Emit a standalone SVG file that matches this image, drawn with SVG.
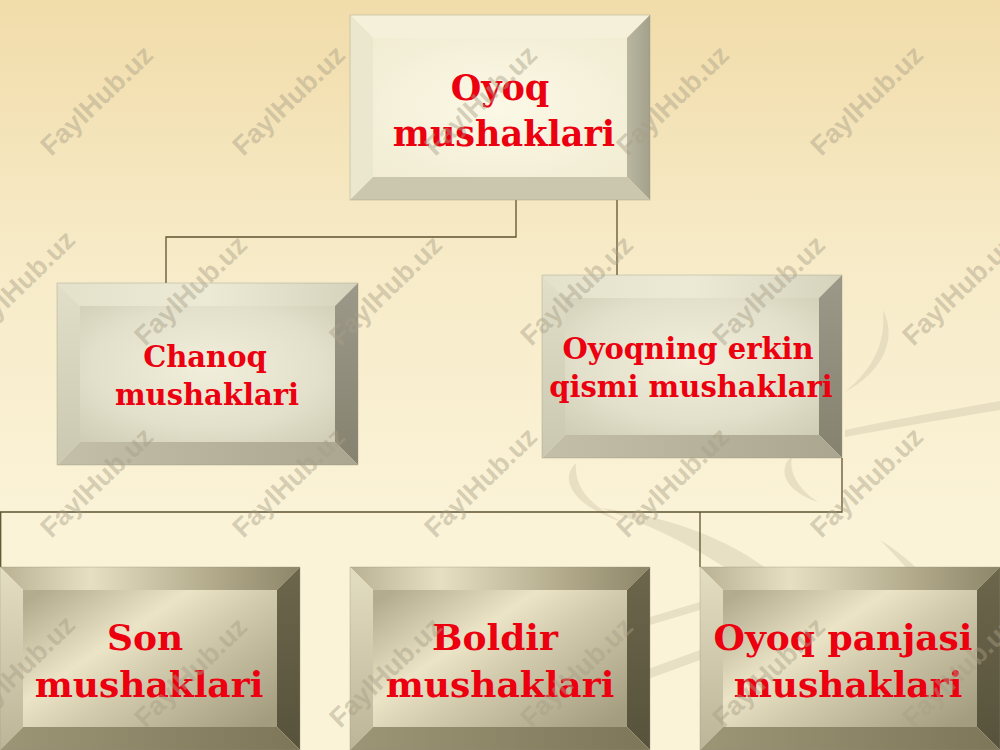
<svg xmlns="http://www.w3.org/2000/svg" width="1000" height="750" viewBox="0 0 1000 750">
<defs>
  <linearGradient id="bg" x1="0" y1="0" x2="0" y2="1">
    <stop offset="0" stop-color="#f1dcaa"/>
    <stop offset="0.35" stop-color="#f7ebc8"/>
    <stop offset="0.7" stop-color="#fbf3d8"/>
    <stop offset="1" stop-color="#fbf3d8"/>
  </linearGradient>
  <radialGradient id="faceA" cx="0.5" cy="0.5" r="0.7">
    <stop offset="0" stop-color="#fbf8e6"/>
    <stop offset="1" stop-color="#f1ecd2"/>
  </radialGradient>
  <linearGradient id="rightA" x1="0" y1="0" x2="1" y2="0">
    <stop offset="0" stop-color="#bab7a1"/>
    <stop offset="1" stop-color="#a3a08b"/>
  </linearGradient>
  <radialGradient id="faceB" cx="0.5" cy="0.45" r="0.75">
    <stop offset="0" stop-color="#f1eedb"/>
    <stop offset="0.6" stop-color="#e2dfca"/>
    <stop offset="1" stop-color="#cfccb5"/>
  </radialGradient>
  <linearGradient id="topB" x1="0" y1="0" x2="1" y2="0">
    <stop offset="0" stop-color="#e4e1cb"/>
    <stop offset="0.5" stop-color="#ece9d5"/>
    <stop offset="1" stop-color="#d6d3bd"/>
  </linearGradient>
  <linearGradient id="leftB" x1="0" y1="0" x2="0" y2="1">
    <stop offset="0" stop-color="#e2dfc9"/>
    <stop offset="1" stop-color="#cbc8b1"/>
  </linearGradient>
  <linearGradient id="rightB" x1="0" y1="0" x2="0" y2="1">
    <stop offset="0" stop-color="#9c998a"/>
    <stop offset="1" stop-color="#85826f"/>
  </linearGradient>
  <linearGradient id="botB" x1="0" y1="0" x2="1" y2="0">
    <stop offset="0" stop-color="#c3bfa8"/>
    <stop offset="1" stop-color="#aaa68f"/>
  </linearGradient>
  <linearGradient id="faceC" x1="0" y1="0.1" x2="1" y2="0.9">
    <stop offset="0" stop-color="#b4ac8f"/>
    <stop offset="0.35" stop-color="#ebe4c7"/>
    <stop offset="0.55" stop-color="#d2cbae"/>
    <stop offset="1" stop-color="#a49c7e"/>
  </linearGradient>
  <linearGradient id="topC" x1="0" y1="0" x2="1" y2="0">
    <stop offset="0" stop-color="#b9b192"/>
    <stop offset="0.3" stop-color="#e6dfc2"/>
    <stop offset="0.7" stop-color="#b3ab8c"/>
    <stop offset="1" stop-color="#8e8668"/>
  </linearGradient>
  <linearGradient id="leftC" x1="0" y1="0" x2="0" y2="1">
    <stop offset="0" stop-color="#e3ddc2"/>
    <stop offset="1" stop-color="#bdb598"/>
  </linearGradient>
  <linearGradient id="rightC" x1="0" y1="0" x2="0" y2="1">
    <stop offset="0" stop-color="#6c664c"/>
    <stop offset="1" stop-color="#57523b"/>
  </linearGradient>
  <linearGradient id="botC" x1="0" y1="0" x2="1" y2="0">
    <stop offset="0" stop-color="#9c9576"/>
    <stop offset="1" stop-color="#7d7658"/>
  </linearGradient>
</defs>
<style>
  .lbl { font-family: "DejaVu Serif", "Liberation Serif", serif; font-weight: bold; fill: #ec0010; text-anchor: middle; }
  .wm { font-family: "Liberation Sans", Arial, sans-serif; font-weight: bold; font-size: 27px; fill: #a89f86; fill-opacity: 0.45; text-anchor: middle; }
  .conn { stroke: #5e5230; stroke-width: 1.3; fill: none; }
  .edge { stroke: #9a957d; stroke-width: 0.6; stroke-opacity: 0.6; }
  .swoosh { fill: #d9d0b5; fill-opacity: 0.55; stroke: none; }
</style>

<rect x="0" y="0" width="1000" height="750" fill="url(#bg)"/>

<g id="background-swooshes">
  <path class="swoosh" d="M883 310 C898 340 882 372 845 392 C874 368 886 342 883 310 Z"/>
  <path class="swoosh" d="M845 430 C900 418 950 410 1000 401 L1000 410 C950 418 900 427 845 437 Z"/>
  <path class="swoosh" d="M576 463 C558 480 574 506 622 522 C590 505 574 488 576 463 Z"/>
  <path class="swoosh" d="M792 456 C776 470 786 492 818 502 C797 488 789 472 792 456 Z"/>
  <path class="swoosh" d="M600 508 C680 518 752 546 802 600 C830 630 842 662 852 705 C832 662 802 628 772 602 C722 562 672 532 600 508 Z"/>
  <path class="swoosh" d="M880 540 C930 570 965 620 985 690 C960 630 925 585 880 540 Z"/>
  <path class="swoosh" fill-opacity="0.35" d="M640 620 L700 602 L700 610 L640 628 Z"/>
  <path class="swoosh" fill-opacity="0.35" d="M640 672 L700 650 L700 660 L640 682 Z"/>
</g>

<g id="connectors">
  <polyline class="conn" points="516,200 516,237 166,237 166,283"/>
  <polyline class="conn" points="617,200 617,275"/>
  <polyline class="conn" points="842,458 842,512 0.7,512 0.7,567"/>
  <polyline class="conn" points="700,512 700,567"/>
</g>

<g id="node-oyoq-mushaklari">
  <polygon points="350,15 650,15 627,38 373,38" fill="#f4f0d9"/>
  <polygon points="350,15 373,38 373,177 350,200" fill="#ebe7cf"/>
  <polygon points="650,15 650,200 627,177 627,38" fill="url(#rightA)"/>
  <polygon points="350,200 373,177 627,177 650,200" fill="#cbc7ae"/>
  <rect x="373" y="38" width="254" height="139" fill="url(#faceA)"/>
  <rect x="350" y="15" width="300" height="185" fill="none" class="edge"/>
  <text class="lbl" font-size="35" x="500" y="100">Oyoq</text>
  <text class="lbl" font-size="35" x="504" y="146">mushaklari</text>
</g>

<g id="node-chanoq-mushaklari">
  <polygon points="57,283 358,283 335,306 80,306" fill="url(#topB)"/>
  <polygon points="57,283 80,306 80,442 57,465" fill="url(#leftB)"/>
  <polygon points="358,283 358,465 335,442 335,306" fill="url(#rightB)"/>
  <polygon points="57,465 80,442 335,442 358,465" fill="url(#botB)"/>
  <rect x="80" y="306" width="255" height="136" fill="url(#faceB)"/>
  <rect x="57" y="283" width="301" height="182" fill="none" class="edge"/>
  <text class="lbl" font-size="29" x="205" y="367">Chanoq</text>
  <text class="lbl" font-size="29" x="207" y="405">mushaklari</text>
</g>

<g id="node-oyoqning-erkin-qismi">
  <polygon points="542,275 842,275 819,298 565,298" fill="url(#topB)"/>
  <polygon points="542,275 565,298 565,435 542,458" fill="url(#leftB)"/>
  <polygon points="842,275 842,458 819,435 819,298" fill="url(#rightB)"/>
  <polygon points="542,458 565,435 819,435 842,458" fill="url(#botB)"/>
  <rect x="565" y="298" width="254" height="137" fill="url(#faceB)"/>
  <rect x="542" y="275" width="300" height="183" fill="none" class="edge"/>
  <text class="lbl" font-size="29" x="688" y="359">Oyoqning erkin</text>
  <text class="lbl" font-size="29" x="691" y="397">qismi mushaklari</text>
</g>

<g id="node-son-mushaklari">
  <polygon points="0,567 300,567 277,590 23,590" fill="url(#topC)"/>
  <polygon points="0,567 23,590 23,727 0,750" fill="url(#leftC)"/>
  <polygon points="300,567 300,750 277,727 277,590" fill="url(#rightC)"/>
  <polygon points="0,750 23,727 277,727 300,750" fill="url(#botC)"/>
  <rect x="23" y="590" width="254" height="137" fill="url(#faceC)"/>
  <rect x="0" y="567" width="300" height="183" fill="none" class="edge"/>
  <text class="lbl" font-size="36" x="145" y="650">Son</text>
  <text class="lbl" font-size="36" x="149" y="697">mushaklari</text>
</g>

<g id="node-boldir-mushaklari">
  <polygon points="350,567 650,567 627,590 373,590" fill="url(#topC)"/>
  <polygon points="350,567 373,590 373,727 350,750" fill="url(#leftC)"/>
  <polygon points="650,567 650,750 627,727 627,590" fill="url(#rightC)"/>
  <polygon points="350,750 373,727 627,727 650,750" fill="url(#botC)"/>
  <rect x="373" y="590" width="254" height="137" fill="url(#faceC)"/>
  <rect x="350" y="567" width="300" height="183" fill="none" class="edge"/>
  <text class="lbl" font-size="36" x="495" y="650">Boldir</text>
  <text class="lbl" font-size="36" x="500" y="697">mushaklari</text>
</g>

<g id="node-oyoq-panjasi-mushaklari">
  <polygon points="700,567 1000,567 977,590 723,590" fill="url(#topC)"/>
  <polygon points="700,567 723,590 723,727 700,750" fill="url(#leftC)"/>
  <polygon points="1000,567 1000,750 977,727 977,590" fill="url(#rightC)"/>
  <polygon points="700,750 723,727 977,727 1000,750" fill="url(#botC)"/>
  <rect x="723" y="590" width="254" height="137" fill="url(#faceC)"/>
  <rect x="700" y="567" width="300" height="183" fill="none" class="edge"/>
  <text class="lbl" font-size="36" x="843" y="650">Oyoq panjasi</text>
  <text class="lbl" font-size="36" x="848" y="697">mushaklari</text>
</g>

<g id="watermarks">
  <text class="wm" transform="translate(103,107) rotate(-44)">FaylHub.uz</text>
  <text class="wm" transform="translate(295,107) rotate(-44)">FaylHub.uz</text>
  <text class="wm" transform="translate(487,107) rotate(-44)">FaylHub.uz</text>
  <text class="wm" transform="translate(679,107) rotate(-44)">FaylHub.uz</text>
  <text class="wm" transform="translate(873,107) rotate(-44)">FaylHub.uz</text>
  <text class="wm" transform="translate(25,292) rotate(-44)">FaylHub.uz</text>
  <text class="wm" transform="translate(197,297) rotate(-44)">FaylHub.uz</text>
  <text class="wm" transform="translate(392,297) rotate(-44)">FaylHub.uz</text>
  <text class="wm" transform="translate(583,297) rotate(-44)">FaylHub.uz</text>
  <text class="wm" transform="translate(775,297) rotate(-44)">FaylHub.uz</text>
  <text class="wm" transform="translate(965,297) rotate(-44)">FaylHub.uz</text>
  <text class="wm" transform="translate(103,489) rotate(-44)">FaylHub.uz</text>
  <text class="wm" transform="translate(295,489) rotate(-44)">FaylHub.uz</text>
  <text class="wm" transform="translate(487,489) rotate(-44)">FaylHub.uz</text>
  <text class="wm" transform="translate(679,489) rotate(-44)">FaylHub.uz</text>
  <text class="wm" transform="translate(873,489) rotate(-44)">FaylHub.uz</text>
  <text class="wm" transform="translate(25,677) rotate(-44)">FaylHub.uz</text>
  <text class="wm" transform="translate(197,679) rotate(-44)">FaylHub.uz</text>
  <text class="wm" transform="translate(392,679) rotate(-44)">FaylHub.uz</text>
  <text class="wm" transform="translate(583,679) rotate(-44)">FaylHub.uz</text>
  <text class="wm" transform="translate(775,679) rotate(-44)">FaylHub.uz</text>
  <text class="wm" transform="translate(965,679) rotate(-44)">FaylHub.uz</text>
</g>
</svg>
